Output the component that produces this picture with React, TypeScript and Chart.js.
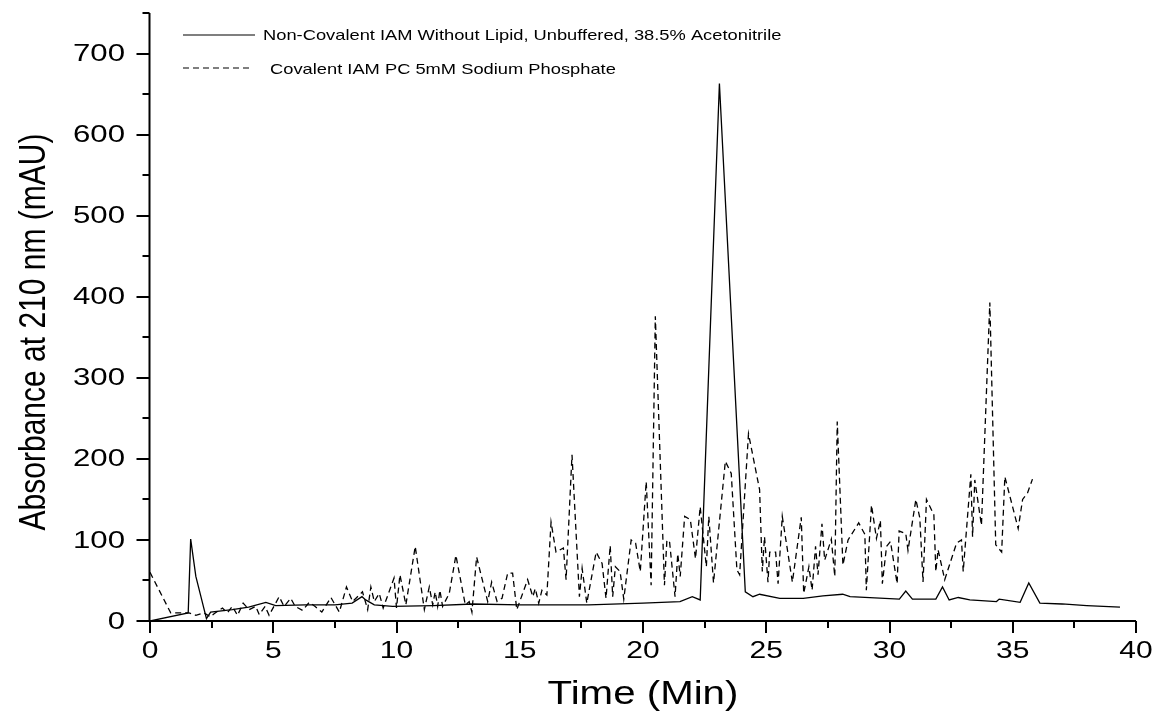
import React, { useEffect, useRef } from "react";
import { Chart, registerables } from "chart.js";

Chart.register(...registerables);

// Non-Covalent IAM Without Lipid (solid)
const solidTimes = [
  0, 1.55, 1.65, 1.86, 2.29, 2.46, 3.34, 4.0, 4.7, 5.1, 6.3, 7.5, 8.2, 8.6, 8.75, 9.1, 9.84, 11.5, 13.1, 15,
  17.8, 20, 21.5, 22.0, 22.32, 23.1, 24.15, 24.46, 24.73, 25.55, 26.5, 27.3, 28.1, 28.4, 30.4, 30.66, 30.93,
  31.88, 32.15, 32.42, 32.79, 33.26, 34.34, 34.45, 35.3, 35.65, 36.1, 37, 38, 39.35,
];
const solidValues = [
  0, 10, 101, 55, 3, 11, 14, 17, 23, 19, 20, 20, 22, 30, 26, 20, 18, 19, 21, 20,
  20, 22, 24, 30, 26, 663, 36, 30, 33, 28, 28, 31, 33, 30, 27, 37, 27,
  27, 42, 26, 29, 26, 24, 27, 23, 47, 22, 21, 19, 17,
];

// Covalent IAM PC 5mM Sodium Phosphate (dashed)
const dashedTimes = [
  0, 0.84, 1.58, 1.86, 2.19, 2.46, 2.6, 2.94, 3.14, 3.34, 3.55, 3.78, 4.02, 4.29, 4.43, 4.67, 4.83, 5.24, 5.44,
  5.71, 5.89, 6.19, 6.46, 6.7, 6.97, 7.34, 7.68, 7.97, 8.22, 8.62, 8.83, 8.96, 9.1, 9.3, 9.46, 9.9, 10.0, 10.14,
  10.38, 10.76, 11.13, 11.33, 11.47, 11.57, 11.67, 11.76, 11.87, 12.14, 12.41, 12.79, 12.95, 13.06, 13.25, 13.7,
  13.86, 14.08, 14.28, 14.51, 14.71, 14.88, 15.32, 15.53, 15.63, 15.77, 15.9, 16.1, 16.27, 16.47, 16.77, 16.88,
  17.12, 17.42, 17.53, 17.72, 18.1, 18.34, 18.5, 18.67, 18.77, 18.88, 19.07, 19.22, 19.52, 19.7, 19.89, 20.13,
  20.33, 20.5, 20.87, 20.97, 21.08, 21.3, 21.41, 21.51, 21.69, 21.92, 22.13, 22.32, 22.57, 22.67, 22.86, 23.34,
  23.58, 23.81, 23.92, 24.28, 24.73, 24.84, 24.93, 25.07, 25.14, 25.38, 25.48, 25.65, 26.06, 26.42, 26.52, 26.73,
  26.86, 27.0, 27.1, 27.26, 27.37, 27.64, 27.78, 27.88, 28.11, 28.32, 28.75, 29.0, 29.06, 29.27, 29.47, 29.63,
  29.71, 29.88, 30.04, 30.31, 30.39, 30.66, 30.75, 31.07, 31.23, 31.36, 31.5, 31.8, 31.88, 31.97, 32.24, 32.72,
  32.92, 32.99, 33.3, 33.37, 33.46, 33.73, 34.07, 34.31, 34.55, 34.68, 35.22, 35.4, 35.6, 35.8,
];
const dashedValues = [
  60, 10, 10, 7, 10, 5, 9, 16, 10, 18, 7, 22, 14, 18, 8, 18, 7, 30, 18,
  28, 18, 13, 23, 18, 11, 29, 11, 42, 24, 36, 14, 42, 24, 34, 16, 53, 16, 57,
  20, 92, 14, 42, 20, 36, 18, 38, 18, 34, 81, 20, 24, 11, 79, 24,
  48, 24, 28, 59, 59, 14, 51, 30, 40, 22, 38, 32, 122, 85, 90, 51,
  205, 30, 65, 22, 85, 71, 28, 93, 30, 67, 61, 27, 100, 96, 61, 172,
  44, 376, 44, 100, 97, 30, 83, 55, 129, 125, 77, 141, 67, 129, 47, 197,
  182, 63, 57, 231, 162, 61, 104, 48, 85, 85, 46, 129, 48, 128, 34, 67,
  38, 92, 57, 120, 75, 101, 55, 246, 69, 100, 121, 107, 38, 143, 102, 124,
  46, 92, 98, 46, 111, 108, 87, 150, 127, 48, 150, 131, 61, 88, 51, 96,
  100, 61, 181, 104, 174, 118, 393, 94, 85, 178, 114, 150, 158, 175,
];

const seriesLabels = [
  "Non-Covalent IAM Without Lipid, Unbuffered, 38.5% Acetonitrile",
  "Covalent IAM PC 5mM Sodium Phosphate",
];
const xTickLabels = ["0", "5", "10", "15", "20", "25", "30", "35", "40"];
const yTickLabels = ["0", "100", "200", "300", "400", "500", "600", "700"];
const xTitle = "Time (Min)";
const yTitle = "Absorbance at 210 nm (mAU)";

const FONT = '"Liberation Sans", Arial, sans-serif';

function drawText(
  ctx: CanvasRenderingContext2D,
  text: string,
  x: number,
  y: number,
  size: number,
  sx: number,
  align: CanvasTextAlign,
  baseline: CanvasTextBaseline,
  rotate = 0,
  alongScale = 1
) {
  ctx.save();
  ctx.translate(x, y);
  ctx.scale(sx, 1);
  if (rotate) ctx.rotate(rotate);
  ctx.scale(alongScale, 1);
  ctx.font = `${size}px ${FONT}`;
  ctx.textAlign = align;
  ctx.textBaseline = baseline;
  ctx.fillStyle = "#000";
  ctx.fillText(text, 0, 0);
  ctx.restore();
}

const decorPlugin = {
  id: "decor",
  afterDraw(chart: any) {
    const ctx: CanvasRenderingContext2D = chart.ctx;
    const xs = chart.scales.x;
    const ys = chart.scales.y;
    const left = chart.chartArea.left;
    const bottom = chart.chartArea.bottom;
    const top = chart.chartArea.top;
    const right = chart.chartArea.right;
    ctx.save();
    ctx.strokeStyle = "#000";
    ctx.lineWidth = 2;
    ctx.setLineDash([]);
    // axis lines
    ctx.beginPath();
    ctx.moveTo(left - 0.5, bottom + 1);
    ctx.lineTo(left - 0.5, top);
    ctx.moveTo(left - 1.5, bottom);
    ctx.lineTo(right, bottom);
    ctx.stroke();
    // y ticks
    for (let v = 0; v <= ys.max + 0.001; v += 50) {
      const py = Math.round(ys.getPixelForValue(v));
      const major = v % 100 === 0;
      ctx.beginPath();
      ctx.moveTo(left - 0.5, py);
      ctx.lineTo(left - 0.5 - (major ? 13 : 7), py);
      ctx.stroke();
    }
    // x ticks
    for (let v = 0; v <= xs.max + 0.001; v += 2.5) {
      const px = Math.round(xs.getPixelForValue(v));
      const major = v % 5 === 0;
      ctx.beginPath();
      ctx.moveTo(px, bottom);
      ctx.lineTo(px, bottom + (major ? 12 : 7));
      ctx.stroke();
    }
    ctx.restore();
    // y tick labels
    yTickLabels.forEach((t) => {
      const py = ys.getPixelForValue(Number(t));
      drawText(ctx, t, left - 25, py + 1, 24, 1.3, "right", "middle");
    });
    // x tick labels
    xTickLabels.forEach((t) => {
      const px = xs.getPixelForValue(Number(t));
      drawText(ctx, t, px, bottom + 37, 24, 1.25, "center", "alphabetic");
    });
    // axis titles
    drawText(ctx, xTitle, (left + right) / 2, 704, 33, 1.22, "center", "alphabetic");
    drawText(ctx, yTitle, 45, 332, 30, 1.25, "center", "alphabetic", -Math.PI / 2, 1);
    // legend
    ctx.save();
    ctx.strokeStyle = "#000";
    ctx.lineWidth = 1.2;
    ctx.beginPath();
    ctx.moveTo(183, 35);
    ctx.lineTo(255, 35);
    ctx.stroke();
    ctx.setLineDash([6, 4]);
    ctx.beginPath();
    ctx.moveTo(183, 68);
    ctx.lineTo(252, 68);
    ctx.stroke();
    ctx.restore();
    drawText(ctx, seriesLabels[0], 263, 36, 15, 1.22, "left", "middle");
    drawText(ctx, seriesLabels[1], 270, 70, 15, 1.22, "left", "middle");
  },
};

export default function App() {
  const ref = useRef<HTMLCanvasElement | null>(null);
  useEffect(() => {
    if (!ref.current) return;
    const chart = new Chart(ref.current, {
      type: "line",
      data: {
        datasets: [
          {
            label: seriesLabels[0],
            data: solidTimes.map((t, i) => ({ x: t, y: solidValues[i] })),
            borderColor: "#000",
            borderWidth: 1.3,
            pointRadius: 0,
            tension: 0,
            fill: false,
          },
          {
            label: seriesLabels[1],
            data: dashedTimes.map((t, i) => ({ x: t, y: dashedValues[i] })),
            borderColor: "#000",
            borderWidth: 1.3,
            borderDash: [6, 4],
            pointRadius: 0,
            tension: 0,
            fill: false,
          },
        ],
      },
      options: {
        animation: false,
        responsive: false,
        devicePixelRatio: 1,
        layout: { padding: { top: 13, right: 21, left: 0, bottom: 0 } },
        plugins: { legend: { display: false }, tooltip: { enabled: false } },
        scales: {
          x: {
            type: "linear",
            min: 0,
            max: 40,
            grid: { display: false },
            border: { display: false },
            ticks: { display: false },
            afterFit: (s: any) => {
              s.height = 90;
            },
          },
          y: {
            type: "linear",
            min: 0,
            max: 750,
            grid: { display: false },
            border: { display: false },
            ticks: { display: false },
            afterFit: (s: any) => {
              s.width = 150;
            },
          },
        },
      },
      plugins: [decorPlugin],
    });
    return () => chart.destroy();
  }, []);
  return (
    <div style={{ position: "fixed", left: 0, top: 0, width: 1157, height: 711, background: "#fff" }}>
      <canvas ref={ref} width={1157} height={711} style={{ display: "block" }} />
    </div>
  );
}
